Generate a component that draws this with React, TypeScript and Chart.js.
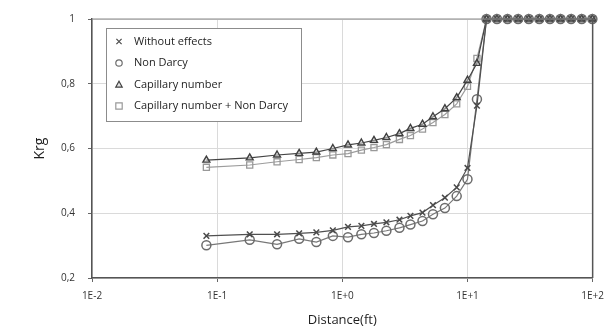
import { useEffect, useRef } from "react";
import { Chart, registerables } from "chart.js";

Chart.register(...registerables);

// Radial distance of each grid cell (ft)
const distance = [
  0.082, 0.182, 0.301, 0.452, 0.62, 0.84, 1.11, 1.42, 1.79, 2.25, 2.86, 3.5,
  4.37, 5.3, 6.6, 8.2, 10.0, 11.9, 14.2, 17.2, 20.9, 25.4, 30.9, 37.5, 45.6,
  55.4, 67.3, 81.8, 99.5,
];

// Gas relative permeability (Krg) per case
const withoutEffects = [
  0.33, 0.335, 0.335, 0.338, 0.341, 0.347, 0.358, 0.361, 0.367, 0.372, 0.38,
  0.392, 0.402, 0.425, 0.448, 0.48, 0.54, 0.732, 1, 1, 1, 1, 1, 1, 1, 1, 1, 1, 1,
];
const nonDarcy = [
  0.301, 0.318, 0.304, 0.321, 0.311, 0.33, 0.326, 0.335, 0.339, 0.346, 0.355,
  0.365, 0.376, 0.397, 0.416, 0.453, 0.505, 0.752, 1, 1, 1, 1, 1, 1, 1, 1, 1, 1, 1,
];
const capillaryNumber = [
  0.564, 0.571, 0.58, 0.585, 0.589, 0.6, 0.611, 0.617, 0.625, 0.634, 0.646,
  0.662, 0.675, 0.698, 0.723, 0.757, 0.811, 0.863, 1, 1, 1, 1, 1, 1, 1, 1, 1, 1, 1,
];
const capillaryNonDarcy = [
  0.542, 0.549, 0.559, 0.566, 0.572, 0.58, 0.584, 0.595, 0.603, 0.612, 0.628,
  0.64, 0.66, 0.68, 0.705, 0.738, 0.792, 0.878, 1, 1, 1, 1, 1, 1, 1, 1, 1, 1, 1,
];

const seriesLabels = [
  "Without effects",
  "Non Darcy",
  "Capillary number",
  "Capillary number + Non Darcy",
];

const xTicks = [0.01, 0.1, 1, 10, 100];
const yTicks = [0.2, 0.4, 0.6, 0.8, 1];

const FONT = "'Open Sans', 'Noto Sans', sans-serif";

const toPoints = (ys: number[]) => ys.map((y, i) => ({ x: distance[i], y }));

type Style = {
  pointStyle: string;
  radius: number;
  color: string;
  fill: string;
  lineColor: string;
  width: number;
};

const styles: Style[] = [
  { pointStyle: "crossRot", radius: 4, color: "#4a4a4a", fill: "rgba(0,0,0,0)", lineColor: "#505050", width: 1.5 },
  { pointStyle: "circle", radius: 4.5, color: "#6c6c6c", fill: "rgba(0,0,0,0)", lineColor: "#787878", width: 1.5 },
  { pointStyle: "triangle", radius: 4, color: "#404040", fill: "rgba(200,200,200,0.5)", lineColor: "#444", width: 1.4 },
  { pointStyle: "rect", radius: 4.3, color: "#999", fill: "rgba(0,0,0,0)", lineColor: "#9c9c9c", width: 1.3 },
];

function drawMarker(ctx: CanvasRenderingContext2D, style: string, x: number, y: number, r: number) {
  ctx.beginPath();
  if (style === "crossRot") {
    ctx.moveTo(x - r, y - r);
    ctx.lineTo(x + r, y + r);
    ctx.moveTo(x + r, y - r);
    ctx.lineTo(x - r, y + r);
    ctx.stroke();
    return;
  }
  if (style === "circle") {
    ctx.arc(x, y, r, 0, Math.PI * 2);
  } else if (style === "triangle") {
    ctx.moveTo(x, y - r);
    ctx.lineTo(x + r, y + r * 0.8);
    ctx.lineTo(x - r, y + r * 0.8);
    ctx.closePath();
  } else {
    ctx.rect(x - r, y - r, r * 2, r * 2);
  }
  ctx.fill();
  ctx.stroke();
}

// Frame lines on the top and right of the plot area
const framePlugin = {
  id: "frame",
  afterDatasetsDraw(chart: any) {
    const { ctx, chartArea } = chart;
    const { left, right, top, bottom } = chartArea;
    ctx.save();
    ctx.strokeStyle = "#8a8a8a";
    ctx.lineWidth = 1.2;
    ctx.beginPath();
    ctx.moveTo(left, top);
    ctx.lineTo(right, top);
    ctx.stroke();
    ctx.strokeStyle = "#555";
    ctx.lineWidth = 1.5;
    ctx.beginPath();
    ctx.moveTo(right, top);
    ctx.lineTo(right, bottom);
    ctx.stroke();
    ctx.restore();
  },
};

// Boxed legend placed inside the plot, upper left
const legendPlugin = {
  id: "boxLegend",
  afterDraw(chart: any) {
    const { ctx, chartArea } = chart;
    const bx = chartArea.left + 14;
    const by = chartArea.top + 9;
    const bw = 195;
    const bh = 93;
    ctx.save();
    ctx.fillStyle = "#fff";
    ctx.fillRect(bx, by, bw, bh);
    ctx.strokeStyle = "#8c8c8c";
    ctx.lineWidth = 1;
    ctx.strokeRect(bx + 0.5, by + 0.5, bw, bh);
    ctx.font = `11px ${FONT}`;
    ctx.textBaseline = "middle";
    ctx.textAlign = "left";
    seriesLabels.forEach((label, i) => {
      const y = by + 13.5 + i * 21.5;
      const s = styles[i];
      ctx.strokeStyle = s.color;
      ctx.fillStyle = s.fill;
      ctx.lineWidth = 1.2;
      drawMarker(ctx, s.pointStyle, bx + 13, y, s.pointStyle === "crossRot" ? 2.6 : 3.2);
      ctx.fillStyle = "#1e1e1e";
      ctx.fillText(label, bx + 28, y);
    });
    ctx.restore();
  },
};

export default function App() {
  const canvasRef = useRef<HTMLCanvasElement | null>(null);

  useEffect(() => {
    const canvas = canvasRef.current;
    if (!canvas) return;
    const seriesData = [withoutEffects, nonDarcy, capillaryNumber, capillaryNonDarcy];
    const chart = new Chart(canvas, {
      type: "line",
      data: {
        datasets: seriesData.map((ys, i) => ({
          label: seriesLabels[i],
          data: toPoints(ys),
          borderColor: styles[i].lineColor,
          borderWidth: 1.2,
          pointStyle: styles[i].pointStyle as any,
          pointRadius: styles[i].radius,
          pointBorderColor: styles[i].color,
          pointBackgroundColor: styles[i].fill,
          pointBorderWidth: styles[i].width,
          tension: 0,
          fill: false,
          clip: false as any,
        })),
      },
      options: {
        responsive: false,
        animation: false,
        events: [],
        layout: { padding: { top: 15, right: 18, left: 0, bottom: 0 } },
        plugins: {
          legend: { display: false },
          tooltip: { enabled: false },
        },
        scales: {
          x: {
            type: "logarithmic",
            min: 0.01,
            max: 100,
            afterBuildTicks: (scale: any) => {
              scale.ticks = xTicks.map((v) => ({ value: v }));
            },
            afterFit: (scale: any) => {
              scale.height = 57;
            },
            ticks: {
              autoSkip: false,
              maxRotation: 0,
              padding: 8,
              color: "#333",
              font: { family: FONT, size: 10 },
              callback: (v: any) => {
                const e = Math.round(Math.log10(Number(v)));
                return "1E" + (e >= 0 ? "+" : "-") + Math.abs(e);
              },
            },
            grid: { color: "#dadada", lineWidth: 1, tickLength: 4, tickColor: "#666" },
            border: { display: true, color: "#555", width: 1.5 },
            title: {
              display: true,
              text: "Distance(ft)",
              color: "#1e1e1e",
              font: { family: FONT, size: 13 },
              padding: { top: 0, bottom: 7 },
            },
          },
          y: {
            type: "linear",
            min: 0.2,
            max: 1,
            afterBuildTicks: (scale: any) => {
              scale.ticks = yTicks.map((v) => ({ value: v }));
            },
            afterFit: (scale: any) => {
              scale.width = 92;
            },
            ticks: {
              padding: 13,
              color: "#333",
              font: { family: FONT, size: 10 },
              callback: (v: any) => {
                const n = Number(v);
                return n === 1 ? "1" : n.toFixed(1).replace(".", ",");
              },
            },
            grid: { color: "#dadada", lineWidth: 1, tickLength: 4, tickColor: "#666" },
            border: { display: true, color: "#555", width: 1.5 },
            title: {
              display: true,
              text: "Krg",
              color: "#1e1e1e",
              font: { family: FONT, size: 14 },
              padding: { top: 32, bottom: 0 },
            },
          },
        },
      },
      plugins: [framePlugin, legendPlugin],
    });
    return () => chart.destroy();
  }, []);

  return (
    <div style={{ position: "absolute", left: 0, top: 0, width: 612, height: 335, background: "#fff" }}>
      <canvas ref={canvasRef} width={612} height={335} />
    </div>
  );
}
